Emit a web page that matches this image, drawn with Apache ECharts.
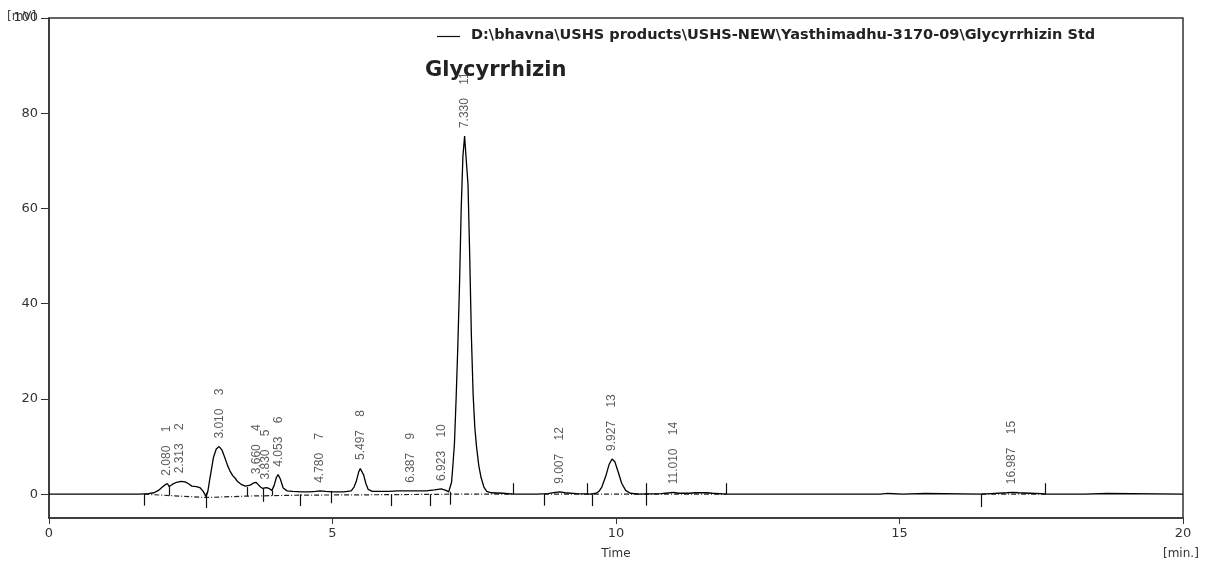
<!DOCTYPE html>
<html>
<head>
<meta charset="utf-8">
<script src="https://cdn.jsdelivr.net/npm/echarts@6/dist/echarts.min.js"></script>
<style>
html,body{margin:0;padding:0;background:#fff;}
#chart{width:1207px;height:565px;}
</style>
</head>
<body>
<div id="chart"></div>
<script>
// Chromatogram signal (time in min, signal in mV)
const signalT = [0, 1.60, 1.75, 1.85, 1.93, 2.00, 2.05, 2.09, 2.12, 2.18, 2.25, 2.33, 2.40, 2.46, 2.52, 2.60, 2.66, 2.72, 2.77, 2.80, 2.84, 2.90, 2.95, 3.00, 3.05, 3.10, 3.15, 3.19, 3.24, 3.28, 3.33, 3.40, 3.46, 3.49, 3.55, 3.60, 3.65, 3.69, 3.73, 3.77, 3.83, 3.88, 3.93, 3.97, 4.01, 4.04, 4.08, 4.13, 4.20, 4.30, 4.45, 4.60, 4.70, 4.78, 4.88, 5.00, 5.20, 5.33, 5.38, 5.42, 5.46, 5.49, 5.52, 5.55, 5.59, 5.63, 5.70, 5.85, 6.00, 6.15, 6.30, 6.39, 6.50, 6.65, 6.80, 6.92, 7.00, 7.05, 7.07, 7.10, 7.12, 7.15, 7.18, 7.21, 7.24, 7.27, 7.30, 7.33, 7.36, 7.39, 7.42, 7.45, 7.48, 7.51, 7.54, 7.58, 7.62, 7.67, 7.72, 7.80, 8.00, 8.20, 8.60, 8.80, 8.93, 9.01, 9.10, 9.30, 9.55, 9.65, 9.70, 9.75, 9.82, 9.88, 9.93, 9.98, 10.04, 10.10, 10.17, 10.25, 10.40, 10.80, 10.95, 11.01, 11.10, 11.30, 11.40, 11.50, 11.60, 11.70, 11.94, 12.00, 14.66, 14.67, 14.80, 14.81, 15.06, 15.07, 15.45, 15.46, 16.44, 16.60, 16.90, 16.99, 17.10, 17.30, 17.50, 17.57, 18.27, 18.28, 18.66, 18.67, 20.00];
const signalV = [0, 0, 0.1, 0.3, 0.8, 1.5, 2.0, 2.2, 1.6, 2.1, 2.5, 2.7, 2.6, 2.2, 1.7, 1.6, 1.4, 0.6, -0.5, 0.5, 3.5, 7.7, 9.5, 10.0, 9.3, 7.7, 6.0, 4.9, 3.9, 3.4, 2.6, 2.0, 1.7, 1.5, 1.9, 2.3, 2.5, 2.0, 1.5, 1.2, 1.4, 1.2, 0.8, 1.8, 3.5, 4.1, 3.2, 1.3, 0.7, 0.6, 0.5, 0.5, 0.6, 0.7, 0.6, 0.5, 0.5, 0.7, 1.5, 2.7, 4.6, 5.4, 5.0, 4.0, 2.2, 1.0, 0.6, 0.6, 0.6, 0.7, 0.7, 0.7, 0.7, 0.7, 0.9, 1.1, 0.8, 0.5, 0.5, 2.5, 5.5, 10.5, 20, 31, 44, 60, 71, 75.2, 70, 65, 50, 33, 21, 14, 10, 6, 3.5, 1.5, 0.6, 0.3, 0.2, 0, 0, 0.1, 0.4, 0.5, 0.3, 0.1, 0, 0.2, 0.6, 1.5, 3.8, 6.3, 7.4, 6.8, 4.6, 2.3, 0.8, 0.2, 0, 0.1, 0.3, 0.4, 0.2, 0.2, 0.3, 0.3, 0.3, 0.2, 0, 0, 0, 0.15, 0.15, 0, 0, 0.15, 0.15, 0, 0, 0.1, 0.3, 0.4, 0.3, 0.2, 0.1, 0, 0, 0.15, 0.15, 0, 0];

// Integration baseline (dash-dot), null = gap
const baseT = [1.68, 2.77, 3.49, 4.43, 6.03, 7.07, 8.18, 8.18, 8.73, 9.49, 9.58, 10.53, 11.94, 11.94, 16.44, 17.57];
const baseV = [0, -0.7, -0.4, -0.2, -0.1, 0, 0, null, 0, 0, 0, 0, 0, null, 0, 0];

// Peak table
const peakRT = ['2.080', '2.313', '3.010', '3.660', '3.830', '4.053', '4.780', '5.497', '6.387', '6.923', '7.330', '9.007', '9.927', '11.010', '16.987'];
const peakNo = ['1', '2', '3', '4', '5', '6', '7', '8', '9', '10', '11', '12', '13', '14', '15'];
const peakH = [2.2, 2.7, 10.0, 2.5, 1.4, 4.1, 0.7, 5.5, 0.7, 1.1, 75.2, 0.5, 7.4, 0.4, 0.4];

// Integration event marks: time, top, bottom (mV)
const markT = [1.68, 2.12, 2.77, 3.49, 3.77, 3.93, 4.43, 4.97, 6.03, 6.73, 7.07, 8.18, 8.73, 9.49, 9.58, 10.53, 11.94, 16.44, 17.57];
const markTop = [0, 1.6, 0.3, 1.5, 1.2, 0.8, 0, 0.7, 0, 0, 0.5, 2.3, 0, 2.3, 0, 2.3, 2.3, 0, 2.3];
const markBot = [-2.4, -0.3, -2.9, -0.4, -1.6, -0.3, -2.5, -1.9, -2.5, -2.5, -2.2, 0, -2.4, 0, -2.5, -2.4, 0, -2.7, 0];

const xTicks = [0, 5, 10, 15, 20];
const yTicks = [0, 20, 40, 60, 80, 100];

const seriesName = 'D:\\bhavna\\USHS products\\USHS-NEW\\Yasthimadhu-3170-09\\Glycyrrhizin Std';

const chart = echarts.init(document.getElementById('chart'), null, {renderer: 'canvas'});
const axisFont = {fontFamily: 'DejaVu Sans', fontSize: 13, color: '#333'};

chart.setOption({
  animation: false,
  backgroundColor: '#ffffff',
  grid: {left: 49, right: 24, top: 18, bottom: 37, show: true, borderColor: '#333', borderWidth: 1.5, backgroundColor: 'transparent'},
  title: {
    text: 'Glycyrrhizin', left: 420, top: 55,
    textStyle: {fontFamily: 'DejaVu Sans', fontWeight: 'bold', fontSize: 21, color: '#222'}
  },
  graphic: [
    {type: 'line', shape: {x1: 437, y1: 36.5, x2: 460, y2: 36.5}, style: {stroke: '#111', lineWidth: 1.2}},
    {type: 'text', left: 471, top: 27.5, style: {text: seriesName, fontFamily: 'DejaVu Sans', fontWeight: 'bold', fontSize: 14.5, fill: '#222'}},
    {type: 'text', left: 7, top: 11, style: {text: '[mV]', fontFamily: 'DejaVu Sans', fontSize: 12, fill: '#444'}},
    {type: 'text', left: 1163, top: 548, style: {text: '[min.]', fontFamily: 'DejaVu Sans', fontSize: 12, fill: '#333'}}
  ],
  xAxis: {
    type: 'value', min: xTicks[0], max: xTicks[xTicks.length - 1], interval: 5,
    name: 'Time', nameLocation: 'middle', nameGap: 30,
    nameTextStyle: {fontFamily: 'DejaVu Sans', fontSize: 12, color: '#333'},
    axisLine: {show: true, onZero: false, lineStyle: {color: '#333', width: 1.5}},
    axisTick: {show: true, length: 6, lineStyle: {color: '#333'}},
    axisLabel: Object.assign({margin: 9}, axisFont),
    splitLine: {show: false}
  },
  yAxis: {
    type: 'value', min: -5, max: 100,
    axisLine: {show: true, lineStyle: {color: '#333', width: 1.5}},
    axisTick: {show: true, length: 8, customValues: yTicks, lineStyle: {color: '#333'}},
    axisLabel: Object.assign({margin: 11, customValues: yTicks}, axisFont),
    splitLine: {show: false}
  },
  series: [
    {
      name: seriesName, type: 'line', symbol: 'none', z: 5,
      lineStyle: {color: '#000', width: 1.3},
      itemStyle: {color: '#000'},
      data: signalT.map((t, i) => [t, signalV[i]]),
      markLine: {
        silent: true, symbol: ['none', 'none'],
        label: {show: false},
        lineStyle: {color: '#111', width: 1.2, type: 'solid'},
        data: markT.map((t, i) => [{coord: [t, markTop[i]]}, {coord: [t, markBot[i]]}])
      }
    },
    {
      name: 'baseline', type: 'line', symbol: 'none', z: 4, connectNulls: false,
      lineStyle: {color: '#222', width: 1.2, type: [5, 2, 1, 2]},
      data: baseT.map((t, i) => [t, baseV[i]])
    },
    {
      name: 'peaks', type: 'scatter', symbolSize: 0, z: 6,
      data: peakRT.map((rt, i) => [parseFloat(rt), peakH[i]]),
      label: {
        show: true, position: 'top', distance: 8, rotate: 90, align: 'left', verticalAlign: 'middle',
        fontFamily: 'Liberation Sans', fontSize: 12, color: '#333',
        formatter: p => peakRT[p.dataIndex] + '    ' + peakNo[p.dataIndex]
      }
    }
  ]
});
</script>
</body>
</html>
